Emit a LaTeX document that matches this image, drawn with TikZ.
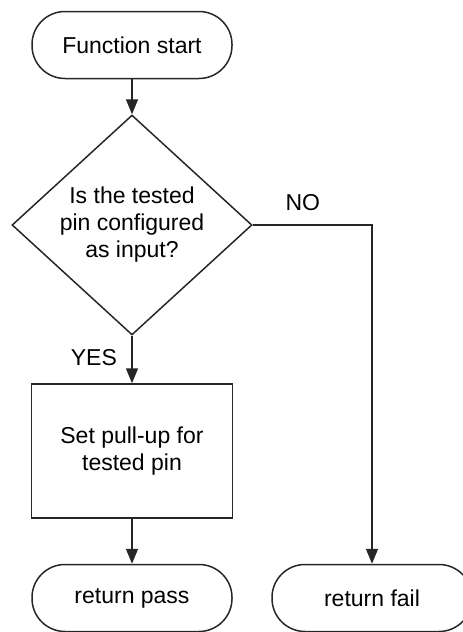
\documentclass[tikz,border=0pt]{standalone}
\usepackage{fontspec}
\setmainfont{Liberation Sans}
\usetikzlibrary{shapes.geometric,arrows.meta,positioning}

\begin{document}
\begin{tikzpicture}[x=1pt, y=-1pt, on grid, line width=1.5pt, draw=black!85,
		font=\fontsize{23}{27}\selectfont,
		term/.style={draw, rectangle, rounded corners=33pt, minimum width=200pt, minimum height=67pt},
		test/.style={draw, diamond, minimum width=240pt, minimum height=204pt, inner sep=0pt, align=center},
		proc/.style={draw, rectangle, minimum width=201pt, minimum height=134pt, align=center},
		arr/.style={-{Triangle[width=12pt,length=15pt]}}]
				\useasboundingbox (0,0) rectangle (463,632);
				\clip (0,0) rectangle (463,632);
				\node[term] (start) at (132,45) {Function start};
				\node[test] (dec) [below=180pt of start] {Is the tested\\pin configured\\as input?};
				\node[proc] (pull) [below=226pt of dec] {Set pull-up for\\tested pin};
				\node[term] (pass) [below=147pt of pull] {return pass};
				\node[term] (fail) [right=240pt of pass] {return fail};
				
				\path[arr]
				(start) edge (dec)
				(dec) edge node[pos=0.45, left=11pt] {YES} (pull)
				(pull) edge (pass)
				;
				\draw[arr] (dec.east) -| node[pos=0.21, above=10pt] {NO} (fail.north);
			\end{tikzpicture}
\end{document}
